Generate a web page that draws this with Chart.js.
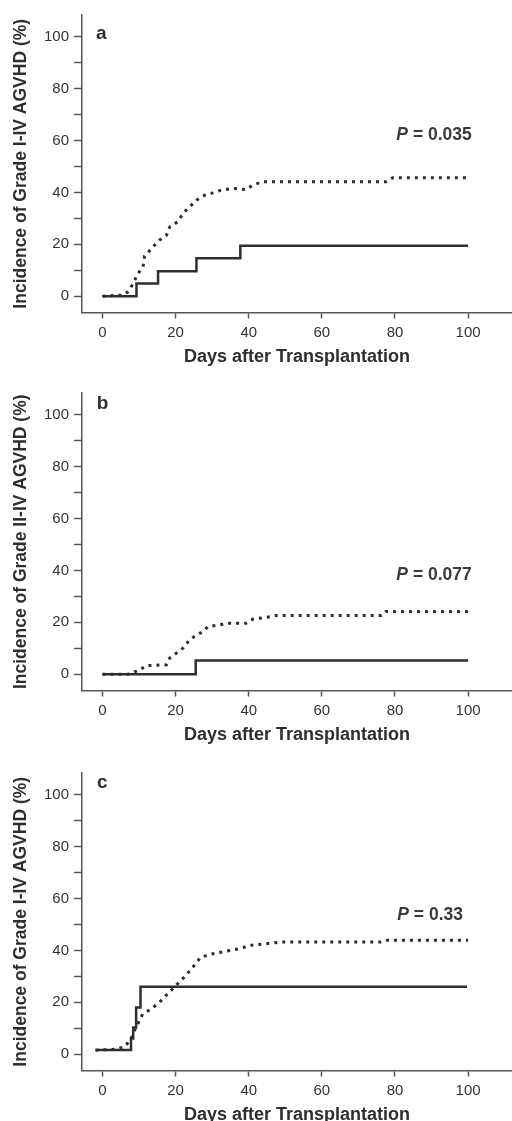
<!DOCTYPE html>
<html>
<head>
<meta charset="utf-8">
<script src="https://cdn.jsdelivr.net/npm/chart.js@4/dist/chart.umd.min.js"></script>
<style>
  body { margin: 0; background: #fff; width: 512px; height: 1121px; overflow: hidden; position: relative; }
  canvas { position: absolute; left: 0; }
</style>
</head>
<body>
<canvas id="chartA" width="512" height="370" style="top:0px"></canvas>
<canvas id="chartB" width="512" height="370" style="top:378px"></canvas>
<canvas id="chartC" width="512" height="370" style="top:758px"></canvas>
<script>
// axis ticks shared by the three panels
const xTicks = [0, 20, 40, 60, 80, 100];
const yTicks = [0, 10, 20, 30, 40, 50, 60, 70, 80, 90, 100];
const yLabelled = [0, 20, 40, 60, 80, 100];

// panel a - grade I-IV
const aSolidDays = [0, 9.3, 15.2, 25.7, 37.7, 100];
const aSolidPct = [0, 4.9, 9.6, 14.6, 19.4, 19.4];
const aDotDays = [0, 5.6, 7.0, 8.4, 9.7, 11.1, 11.5, 13.8, 15.6, 17.5, 18.4, 20.6, 22.0, 23.8, 25.7, 27.9, 30.2, 32.5, 35.7, 39.3, 41.1, 43.8, 77.5, 79.4, 100];
const aDotPct = [0, 0.4, 1.7, 4.9, 8.7, 11.3, 15.4, 19.0, 21.6, 23.5, 26.7, 28.7, 31.9, 34.4, 37.0, 38.9, 39.8, 40.9, 41.5, 41.1, 42.8, 44.1, 44.1, 45.7, 45.7];

// panel b - grade II-IV
const bSolidDays = [0, 25.5, 100];
const bSolidPct = [0, 5.3, 5.3];
const bDotDays = [0, 7.0, 8.4, 10.2, 12.0, 17.5, 18.4, 20.2, 22.0, 23.8, 25.7, 27.5, 28.8, 32.0, 33.8, 39.3, 41.1, 44.8, 47.5, 76.2, 77.5, 100];
const bDotPct = [0, 0, 0.6, 1.7, 3.3, 3.6, 6.2, 8.1, 10.0, 13.2, 15.1, 16.4, 18.3, 19.0, 19.6, 19.6, 21.2, 21.9, 22.6, 22.6, 24.2, 24.2];

// panel c - grade I-IV, second comparison
const cSolidDays = [-1.9, 7.8, 8.4, 9.2, 10.4, 99.7];
const cSolidPct = [1.6, 6.0, 10.3, 18.0, 26.0, 26.0];
const cDotDays = [-1.9, 3.3, 6.0, 7.8, 8.7, 10.1, 11.0, 13.3, 15.6, 17.8, 20.1, 22.4, 24.7, 26.9, 30.2, 33.8, 37.4, 40.2, 44.8, 48.5, 76.0, 77.9, 100];
const cDotPct = [1.5, 1.9, 2.8, 5.8, 9.0, 12.9, 15.5, 17.4, 20.0, 23.2, 26.5, 29.7, 33.5, 37.4, 38.7, 39.7, 40.6, 41.9, 42.6, 43.2, 43.2, 43.9, 43.9];

const FONT = '"Liberation Sans", Arial, Helvetica, sans-serif';
const INK = '#2e2e2e';
const AXIS = '#555';

const toPoints = (days, pct) => days.map((d, i) => ({ x: d, y: pct[i] }));

// panel letter and P value, placed in data units
const panelText = {
    id: 'panelText',
    afterDraw(chart, args, opts) {
        const { ctx, scales: { x, y } } = chart;
        ctx.save();
        ctx.fillStyle = INK;
        ctx.textBaseline = 'middle';
        ctx.textAlign = 'left';
        ctx.font = 'bold 19px ' + FONT;
        ctx.fillText(opts.letter, x.getPixelForValue(opts.letterAt[0]), y.getPixelForValue(opts.letterAt[1]));

        const rest = ' = ' + opts.pValue;
        ctx.font = 'bold 17.5px ' + FONT;
        const restW = ctx.measureText(rest).width;
        ctx.font = 'italic bold 17.5px ' + FONT;
        const pW = ctx.measureText('P').width;
        const right = x.getPixelForValue(opts.pAt[0]);
        const py = y.getPixelForValue(opts.pAt[1]);
        ctx.fillStyle = '#3a3a3a';
        ctx.fillText('P', right - restW - pW, py);
        ctx.font = 'bold 17.5px ' + FONT;
        ctx.fillText(rest, right - restW, py);
        ctx.restore();
    }
};

function makePanel(id, yTitle, solid, dotted, text) {
    new Chart(document.getElementById(id), {
        type: 'line',
        data: {
            datasets: [{
                data: dotted,
                borderColor: INK,
                borderWidth: 3,
                borderDash: [3, 5],
                pointRadius: 0,
                tension: 0,
                fill: false
            }, {
                data: solid,
                borderColor: INK,
                borderWidth: 2.5,
                stepped: 'before',
                pointRadius: 0,
                fill: false
            }]
        },
        options: {
            responsive: false,
            animation: false,
            events: [],
            layout: { padding: { top: 15, right: 0, bottom: 0, left: 0 } },
            plugins: {
                legend: { display: false },
                tooltip: { enabled: false },
                panelText: text
            },
            scales: {
                x: {
                    type: 'linear',
                    min: -5.6,
                    max: 112,
                    afterBuildTicks: s => { s.ticks = xTicks.map(v => ({ value: v })); },
                    afterFit: s => { s.height = 57.5; },
                    ticks: { color: '#333', font: { family: FONT, size: 15 }, padding: 5, maxRotation: 0 },
                    grid: { drawOnChartArea: false, tickLength: 6, tickColor: AXIS, tickWidth: 1.5 },
                    border: { color: AXIS, width: 1.5 },
                    title: {
                        display: true,
                        text: 'Days after Transplantation',
                        color: INK,
                        font: { family: FONT, size: 18, weight: 'bold' },
                        padding: { top: 0, bottom: 2 }
                    }
                },
                y: {
                    min: -6.3,
                    max: 108.4,
                    afterBuildTicks: s => { s.ticks = yTicks.map(v => ({ value: v })); },
                    afterFit: s => { s.width = 82; },
                    ticks: {
                        color: '#333',
                        font: { family: FONT, size: 15 },
                        padding: 5,
                        callback: v => yLabelled.includes(v) ? v : ''
                    },
                    grid: { drawOnChartArea: false, tickLength: 8, tickColor: AXIS, tickWidth: 1.5 },
                    border: { color: AXIS, width: 1.5 },
                    title: {
                        display: true,
                        text: yTitle,
                        color: INK,
                        font: { family: FONT, size: 17.5, weight: 'bold' },
                        padding: { top: 11, bottom: 0 }
                    }
                }
            }
        },
        plugins: [panelText]
    });
}

makePanel('chartA', 'Incidence of Grade I-IV AGVHD (%)',
    toPoints(aSolidDays, aSolidPct), toPoints(aDotDays, aDotPct),
    { letter: 'a', letterAt: [-1.8, 101.3], pValue: '0.035', pAt: [101, 62] });
makePanel('chartB', 'Incidence of Grade II-IV AGVHD (%)',
    toPoints(bSolidDays, bSolidPct), toPoints(bDotDays, bDotPct),
    { letter: 'b', letterAt: [-1.6, 104.2], pValue: '0.077', pAt: [101, 38.2] });
makePanel('chartC', 'Incidence of Grade I-IV AGVHD (%)',
    toPoints(cSolidDays, cSolidPct), toPoints(cDotDays, cDotPct),
    { letter: 'c', letterAt: [-1.5, 104.5], pValue: '0.33', pAt: [98.6, 53.5] });
</script>
</body>
</html>
